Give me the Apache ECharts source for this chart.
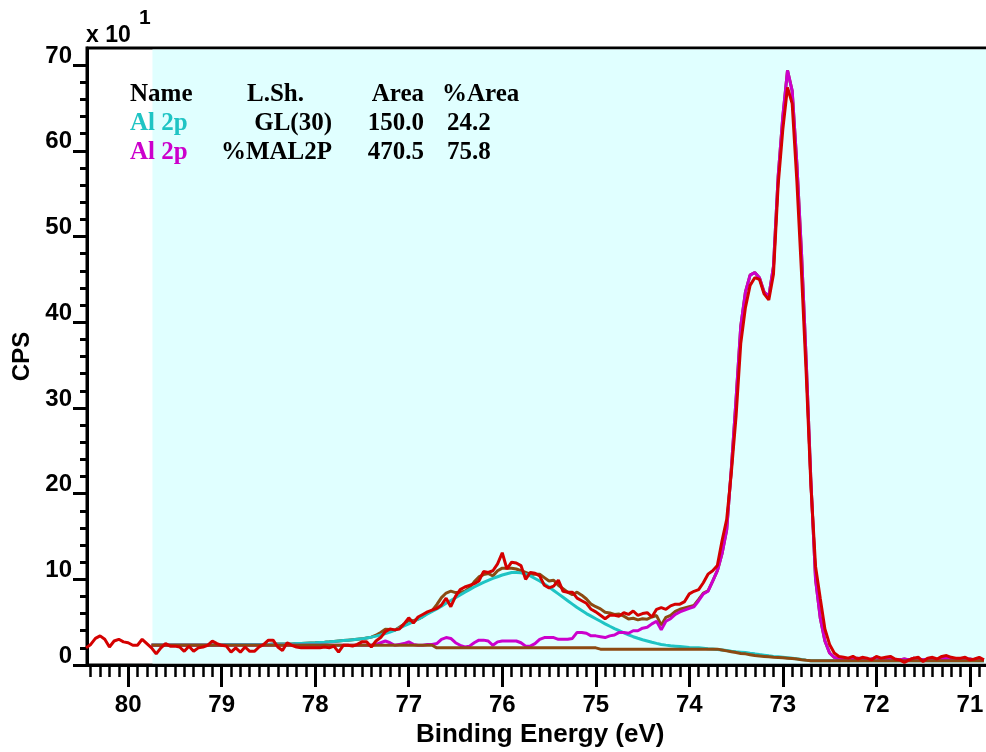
<!DOCTYPE html>
<html><head><meta charset="utf-8">
<script src="https://cdn.jsdelivr.net/npm/echarts@6/dist/echarts.min.js"></script>
<style>html,body{margin:0;padding:0;background:#fff}#c{width:986px;height:752px}</style>
</head><body><div id="c"></div>
<script>
// Energy grid of the spectrum (eV), descending
const energyStart = 80.45;
const energyStep = 0.05;
const fitRegionStart = 79.74;

// Raw counts (x10 CPS)
const rawCounts = [
2.0,2.4,3.1,3.4,3.0,2.1,2.8,3.0,2.7,2.6,
2.3,2.3,3.0,2.5,2.0,1.3,2.0,2.5,2.2,2.2,
2.1,1.6,2.2,1.6,2.0,2.1,2.3,2.8,2.5,2.3,
2.2,1.5,2.0,1.5,2.1,1.6,1.6,2.1,2.4,2.9,
2.9,2.1,1.7,2.6,2.3,2.1,2.0,2.0,2.0,2.0,
2.0,2.1,2.0,2.2,1.5,2.3,2.3,2.2,2.4,2.7,
2.7,2.1,2.8,3.2,3.9,4.2,4.1,4.2,4.8,5.5,
4.9,5.6,5.9,6.2,6.4,6.6,7.0,7.8,6.8,8.0,
8.8,9.1,9.3,9.5,9.8,10.9,10.8,11.0,11.8,13.1,
11.2,12.0,11.9,11.6,10.0,10.8,10.7,10.4,9.3,9.0,
9.2,9.9,8.6,8.5,8.5,7.8,7.5,7.2,6.5,6.2,
5.8,5.4,5.8,5.8,5.7,6.1,5.9,6.3,5.8,6.0,
6.1,5.6,6.5,6.7,6.5,6.9,7.1,7.1,7.4,8.3,
8.6,8.8,9.6,10.6,11.0,11.6,14.5,17.0,22.5,29.0,
37.5,41.7,44.3,45.2,45.0,43.3,42.6,45.6,56.0,62.5,
67.4,65.5,56.5,45.7,34.0,21.0,11.5,7.8,4.2,2.4,
1.4,1.0,0.9,0.8,1.0,0.7,0.9,0.8,0.6,1.0,
0.8,0.9,1.0,0.7,0.6,0.3,0.6,0.8,0.9,0.4,
0.8,0.9,0.7,1.0,1.1,0.9,0.8,0.8,0.9,0.6,
0.7,0.9,0.6
];

// Fit envelope (brown)
const envelopeCounts = [
null,null,null,null,null,null,null,null,null,null,
null,null,null,null,2.33,2.33,2.33,2.33,2.33,2.33,
2.33,2.33,2.33,2.33,2.33,2.33,2.33,2.33,2.33,2.33,
2.38,2.38,2.38,2.38,2.38,2.38,2.38,2.38,2.38,2.38,
2.45,2.45,2.45,2.45,2.45,2.5,2.52,2.55,2.58,2.6,
2.63,2.66,2.7,2.75,2.8,2.85,2.9,2.95,3.0,3.05,
3.15,3.25,3.47,3.8,4.17,4.15,4.05,4.4,4.75,5.2,
5.17,5.35,5.65,6.05,6.35,7.05,7.87,8.4,8.62,8.45,
8.47,8.6,9.0,9.7,10.28,10.55,10.68,10.4,11.0,11.3,
11.3,11.3,11.2,11.0,10.8,10.6,10.6,10.6,10.2,9.8,
9.9,9.3,8.9,8.5,8.2,8.5,8.15,7.7,7.1,6.8,
6.55,6.15,6.07,5.9,5.95,5.7,5.37,5.45,5.27,5.4,
5.35,5.6,5.77,4.65,5.57,5.8,6.25,6.5,6.65,6.8,
6.95,7.65,8.4,8.65,9.8,11.0,13.0,15.8,23.0,31.0,
39.5,43.5,45.5,45.8,45.2,43.5,43.0,46.5,57.0,64.0,
69.4,67.0,58.5,48.0,35.5,21.5,10.0,5.5,2.8,1.4,
0.9,0.7,0.7,0.6,0.7,0.8,0.6,0.6,0.7,0.9,
0.6,0.7,0.8,0.6,0.6,0.7,0.6,0.8,0.6,0.6,
0.7,0.6,0.6,0.7,0.8,0.6,0.7,0.6,0.6,0.7,
0.6,0.7,0.6
];

// Component 1: Al 2p GL(30) (cyan)
const glCounts = [
null,null,null,null,null,null,null,null,null,null,
null,null,null,null,2.33,2.33,2.33,2.33,2.33,2.33,
2.33,2.33,2.33,2.33,2.33,2.33,2.33,2.33,2.33,2.33,
2.38,2.38,2.38,2.38,2.38,2.38,2.38,2.38,2.38,2.38,
2.45,2.45,2.45,2.45,2.45,2.5,2.52,2.55,2.58,2.6,
2.63,2.66,2.7,2.75,2.8,2.85,2.9,2.95,3.0,3.05,
3.15,3.25,3.37,3.5,3.67,3.85,4.05,4.3,4.55,4.8,
5.07,5.35,5.65,5.95,6.25,6.55,6.87,7.2,7.52,7.85,
8.17,8.5,8.8,9.1,9.38,9.65,9.88,10.1,10.3,10.5,
10.65,10.8,10.8,10.75,10.6,10.4,10.1,9.8,9.45,9.1,
8.7,8.3,7.9,7.5,7.1,6.7,6.35,6.0,5.7,5.4,
5.1,4.8,4.52,4.25,4.0,3.75,3.52,3.3,3.12,2.95,
2.8,2.65,2.52,2.4,2.32,2.25,2.2,2.15,2.1,2.05,
2.02,2.0,1.95,1.9,1.86,1.82,1.76,1.7,1.62,1.55,
1.5,1.45,1.37,1.3,1.22,1.15,1.07,1.0,0.95,0.9,
0.85,0.8,0.72,0.65,0.57,0.5,0.5,0.5,0.5,0.5,
0.5,0.5,0.5,0.5,0.5,0.5,0.5,0.5,0.5,0.5,
0.5,0.5,0.5,0.5,0.5,0.5,0.5,0.5,0.5,0.5,
0.5,0.5,0.5,0.5,0.5,0.5,0.5,0.5,0.5,0.5,
0.5,0.5,0.5
];

// Component 2: Al 2p %MAL2P (magenta)
const mal2pCounts = [
null,null,null,null,null,null,null,null,null,null,
null,null,null,null,2.3,2.3,2.3,2.3,2.3,2.3,
2.3,2.3,2.3,2.3,2.3,2.3,2.3,2.3,2.3,2.3,
2.3,2.3,2.3,2.3,2.3,2.3,2.3,2.3,2.3,2.3,
2.3,2.3,2.3,2.3,2.3,2.3,2.3,2.3,2.3,2.3,
2.3,2.3,2.3,2.3,2.3,2.3,2.3,2.3,2.3,2.3,
2.3,2.3,2.4,2.6,2.8,2.6,2.3,2.4,2.5,2.7,
2.4,2.3,2.3,2.4,2.4,2.5,3.0,3.2,3.1,2.6,
2.3,2.1,2.2,2.6,2.9,2.9,2.8,2.3,2.7,2.8,
2.8,2.8,2.8,2.6,2.2,2.2,2.5,3.0,3.2,3.2,
3.2,3.0,3.0,3.0,3.1,3.8,3.8,3.7,3.4,3.4,
3.3,3.2,3.4,3.5,3.8,3.8,3.7,4.0,4.0,4.3,
4.4,4.8,5.1,4.1,5.1,5.4,5.9,6.2,6.4,6.6,
6.8,7.5,8.3,8.6,9.8,11.0,13.0,15.8,23.0,31.0,
39.5,43.5,45.5,45.8,45.2,43.5,43.0,46.5,57.0,64.0,
69.4,67.0,58.5,48.0,35.5,21.5,10.0,5.5,2.8,1.4,
0.9,0.7,0.7,0.6,0.7,0.8,0.6,0.6,0.7,0.9,
0.6,0.7,0.8,0.6,0.6,0.7,0.6,0.8,0.6,0.6,
0.7,0.6,0.6,0.7,0.8,0.6,0.7,0.6,0.6,0.7,
0.6,0.7,0.6
];

// Shirley background (brown)
const backgroundCounts = [
null,null,null,null,null,null,null,null,null,null,
null,null,null,null,2.3,2.3,2.3,2.3,2.3,2.3,
2.3,2.3,2.3,2.3,2.3,2.3,2.3,2.3,2.3,2.3,
2.3,2.3,2.3,2.3,2.3,2.3,2.3,2.3,2.3,2.3,
2.3,2.3,2.3,2.3,2.3,2.3,2.3,2.3,2.3,2.3,
2.3,2.3,2.3,2.3,2.3,2.3,2.3,2.3,2.3,2.3,
2.3,2.3,2.3,2.3,2.3,2.3,2.3,2.3,2.3,2.3,
2.3,2.3,2.3,2.3,2.3,2.0,2.0,2.0,2.0,2.0,
2.0,2.0,2.0,2.0,2.0,2.0,2.0,2.0,2.0,2.0,
2.0,2.0,2.0,2.0,2.0,2.0,2.0,2.0,2.0,2.0,
2.0,2.0,2.0,2.0,2.0,2.0,2.0,2.0,2.0,2.0,
1.85,1.85,1.85,1.85,1.85,1.85,1.85,1.85,1.85,1.85,
1.85,1.85,1.85,1.85,1.85,1.85,1.85,1.85,1.85,1.85,
1.85,1.85,1.85,1.85,1.85,1.85,1.75,1.65,1.55,1.45,
1.35,1.3,1.2,1.1,1.05,1.0,0.95,0.9,0.88,0.85,
0.8,0.75,0.7,0.62,0.55,0.5,0.5,0.5,0.5,0.5,
0.5,0.5,0.5,0.5,0.5,0.5,0.5,0.5,0.5,0.5,
0.5,0.5,0.5,0.5,0.5,0.5,0.5,0.5,0.5,0.5,
0.5,0.5,0.5,0.5,0.5,0.5,0.5,0.5,0.5,0.5,
0.5,0.5,0.5
];

const xTickValues = [71,72,73,74,75,76,77,78,79,80];
const yTickValues = [0,10,20,30,40,50,60,70];

const tableHeader = ['Name','L.Sh.','Area','%Area'];
const tableRowGL = ['Al 2p','GL(30)','150.0','24.2'];
const tableRowMAL = ['Al 2p','%MAL2P','470.5','75.8'];

const scaleText = 'x 10';
const scaleExponent = '1';

// ---------- build ----------
function energyAt(i){ return Math.round((energyStart - energyStep*i)*1000)/1000; }
function pairs(arr){
  const out=[];
  arr.forEach((v,i)=>{ if(v!==null && v!==undefined) out.push([energyAt(i), v]); });
  return out;
}
const sansFont = '"Liberation Sans", Arial, Helvetica, sans-serif';
const serifFont = '"Liberation Serif", "Times New Roman", serif';

const COL_CYAN = '#1fc4c4';
const COL_MAG = '#cc00cc';
const COL_RED = '#d40000';
const COL_BROWN = '#8c4a12';

// table layout
const colSpec = [
  {x:130, align:'left'},
  {x:332, align:'right'},
  {x:424, align:'right'},
  {x:447, align:'left'}
];
const headerSpec = [
  {x:130, align:'left'},
  {x:247, align:'left'},
  {x:424, align:'right'},
  {x:442, align:'left'}
];
const rowYs = [95,124,153];
const graphics = [];
function addText(txt, x, y, align, color, font){
  graphics.push({type:'text', x:x, y:y, silent:true, z:100,
    style:{text:txt, x:0, y:0, font:font, fill:color, align:align, verticalAlign:'middle',
      textAlign:align, textVerticalAlign:'middle'}});
}
const tFont = 'bold 25px ' + serifFont;
tableHeader.forEach((t,i)=>addText(t, headerSpec[i].x, rowYs[0], headerSpec[i].align, '#000', tFont));
tableRowGL.forEach((t,i)=>addText(t, colSpec[i].x, rowYs[1], colSpec[i].align, i===0?COL_CYAN:'#000', tFont));
tableRowMAL.forEach((t,i)=>addText(t, colSpec[i].x, rowYs[2], colSpec[i].align, i===0?COL_MAG:'#000', tFont));
addText(scaleText, 86, 36, 'left', '#000', 'bold 23px ' + sansFont);
addText(scaleExponent, 139, 18, 'left', '#000', 'bold 21px ' + sansFont);

const chart = echarts.init(document.getElementById('c'), null, {renderer:'canvas'});
const lineBase = {type:'line', symbol:'none', showSymbol:false, silent:true, animation:false, connectNulls:false};
chart.setOption({
  animation:false,
  backgroundColor:'#ffffff',
  grid:{left:87, top:48, width:976.4, height:617, show:true, borderColor:'#000', borderWidth:3, backgroundColor:'#ffffff',
    containLabel:false, outerBoundsMode:'none'},
  xAxis:{
    type:'value', min:70, max:80.44, interval:1, inverse:true, position:'bottom',
    axisLine:{show:true, onZero:false, lineStyle:{color:'#000', width:3}},
    axisTick:{show:true, inside:false, length:22, customValues:xTickValues, lineStyle:{color:'#000', width:3}},
    minorTick:{show:true, splitNumber:10, length:12, lineStyle:{color:'#000', width:2.5}},
    splitLine:{show:false}, minorSplitLine:{show:false},
    axisLabel:{show:true, customValues:xTickValues, margin:28, fontSize:24, fontWeight:'bold', color:'#000', fontFamily:sansFont,
      formatter:function(v){ return Number.isInteger(v) ? String(v) : ''; }},
    name:'Binding Energy (eV)', nameLocation:'middle', nameGap:54,
    nameTextStyle:{fontSize:26, fontWeight:'bold', color:'#000', fontFamily:sansFont, padding:[0,70,0,0]}
  },
  yAxis:{
    type:'value', min:0, max:72, interval:10,
    axisLine:{show:true, onZero:false, lineStyle:{color:'#000', width:3}},
    axisTick:{show:true, inside:false, length:14, customValues:yTickValues, lineStyle:{color:'#000', width:3}},
    minorTick:{show:true, splitNumber:5, length:7, lineStyle:{color:'#000', width:3}},
    splitLine:{show:false}, minorSplitLine:{show:false},
    axisLabel:{show:true, customValues:yTickValues, margin:15, fontSize:24, fontWeight:'bold', color:'#000', fontFamily:sansFont,
      verticalAlign:'bottom', lineHeight:18,
      formatter:function(v){ return (v % 10 === 0) ? String(v) : ''; }},
    name:'CPS', nameLocation:'middle', nameGap:47,
    nameTextStyle:{fontSize:24, fontWeight:'bold', color:'#000', fontFamily:sansFont}
  },
  graphic:{elements:graphics},
  series:[
    Object.assign({}, lineBase, {name:'region', z:1, data:[[fitRegionStart,1]], lineStyle:{opacity:0, width:0},
      markArea:{silent:true, itemStyle:{color:'#e0ffff'}, data:[[{xAxis:fitRegionStart, yAxis:0.18},{xAxis:70, yAxis:71.82}]]}}),
    Object.assign({}, lineBase, {name:'Envelope', z:2, data:pairs(envelopeCounts), lineStyle:{color:COL_BROWN, width:3}}),
    Object.assign({}, lineBase, {name:'GL(30)', z:3, data:pairs(glCounts), lineStyle:{color:COL_CYAN, width:3}}),
    Object.assign({}, lineBase, {name:'%MAL2P', z:4, data:pairs(mal2pCounts), lineStyle:{color:COL_MAG, width:3}}),
    Object.assign({}, lineBase, {name:'Background', z:5, data:pairs(backgroundCounts), lineStyle:{color:COL_BROWN, width:3}}),
    Object.assign({}, lineBase, {name:'Raw', z:6, data:pairs(rawCounts), lineStyle:{color:COL_RED, width:3}})
  ]
});
</script>
</body></html>
